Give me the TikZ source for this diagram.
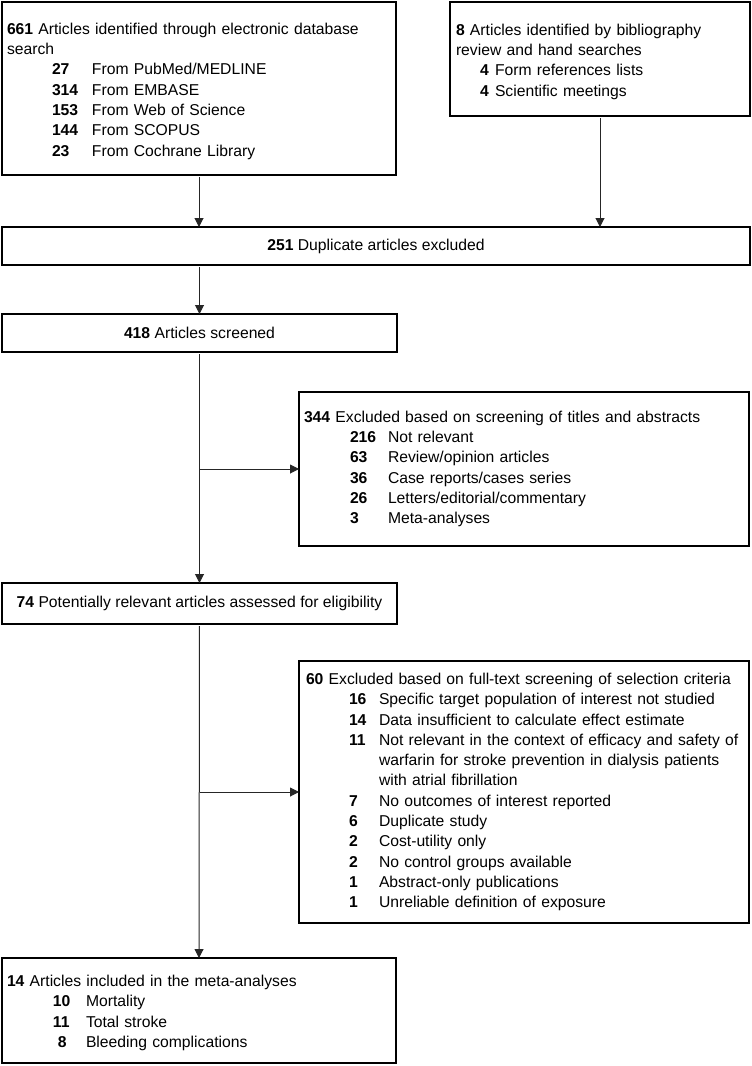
\documentclass[tikz,border=0pt]{standalone}
\usepackage{fontspec}
\setmainfont{Liberation Sans}
\usetikzlibrary{arrows.meta}
\newcommand{\rowitem}[4]{\hspace*{#1pt}\makebox[#2pt][l]{\textbf{#3}}#4}
\newcommand{\topstrut}{\rule{0pt}{16.5pt}}
\begin{document}
\begin{tikzpicture}[x=1pt,y=-1pt,
  box/.style={draw=black, line width=1.4pt, rectangle, outer sep=0pt, anchor=north west, inner ysep=0pt,
    font=\fontsize{15.7pt}{20.3pt}\selectfont},
  arr/.style={draw=black!85, line width=1pt, -{Triangle[length=9pt,width=9pt]}},
  gap/.style={shorten <=2pt}]
\useasboundingbox (0,0) rectangle (752,1066);

\node[box, align=left, inner xsep=5pt, text width=384pt, minimum width=394pt, minimum height=173pt] (b1) at (2,2)
{\topstrut\textbf{661} Articles identified through electronic database\\
search\\
\rowitem{45}{40}{27}{From PubMed/MEDLINE}\\
\rowitem{45}{40}{314}{From EMBASE}\\
\rowitem{45}{40}{153}{From Web of Science}\\
\rowitem{45}{40}{144}{From SCOPUS}\\
\rowitem{45}{40}{23}{From Cochrane Library}};

\node[box, align=left, inner xsep=6pt, text width=288pt, minimum width=300pt, minimum height=114pt] (b2) at (450,2)
{\topstrut\textbf{8} Articles identified by bibliography\\
review and hand searches\\
\rowitem{24}{15}{4}{Form references lists}\\
\rowitem{24}{15}{4}{Scientific meetings}};

\node[box, align=center, minimum width=748pt, minimum height=38pt] (dup) at (2,227)
{\textbf{251} Duplicate articles excluded};

\node[box, align=center, minimum width=395pt, minimum height=38pt] (scr) at (2,314)
{\textbf{418} Articles screened};

\node[box, align=left, inner xsep=5pt, text width=440pt, minimum width=450pt, minimum height=154pt] (ex1) at (299,392)
{\textbf{344} Excluded based on screening of titles and abstracts\\
\rowitem{46}{38}{216}{Not relevant}\\
\rowitem{46}{38}{63}{Review/opinion articles}\\
\rowitem{46}{38}{36}{Case reports/cases series}\\
\rowitem{46}{38}{26}{Letters/editorial/commentary}\\
\rowitem{46}{38}{3}{Meta-analyses}};

\node[box, align=center, minimum width=395pt, minimum height=41pt] (elig) at (2,583)
{\textbf{74} Potentially relevant articles assessed for eligibility};

\node[box, align=left, inner xsep=7pt, text width=436pt, minimum width=450pt, minimum height=262pt] (ex2) at (299,661)
{\textbf{60} Excluded based on full-text screening of selection criteria\\
\rowitem{43}{30}{16}{Specific target population of interest not studied}\\
\rowitem{43}{30}{14}{Data insufficient to calculate effect estimate}\\
\rowitem{43}{30}{11}{Not relevant in the context of efficacy and safety of}\\
\hspace*{73pt}warfarin for stroke prevention in dialysis patients\\
\hspace*{73pt}with atrial fibrillation\\
\rowitem{43}{30}{7}{No outcomes of interest reported}\\
\rowitem{43}{30}{6}{Duplicate study}\\
\rowitem{43}{30}{2}{Cost-utility only}\\
\rowitem{43}{30}{2}{No control groups available}\\
\rowitem{43}{30}{1}{Abstract-only publications}\\
\rowitem{43}{30}{1}{Unreliable definition of exposure}};

\node[box, align=left, inner xsep=5pt, text width=384pt, minimum width=394pt, minimum height=105pt] (inc) at (2,958)
{\topstrut\textbf{14} Articles included in the meta-analyses\\
\rowitem{46}{33}{10}{Mortality}\\
\rowitem{46}{33}{11}{Total stroke}\\
\rowitem{51}{28}{8}{Bleeding complications}};

\draw[arr, gap] (b1.south) -- (b1.south |- dup.north);
\draw[arr, gap] (b2.south) -- (b2.south |- dup.north);
\draw[arr, gap] (dup.south -| scr.north) -- (scr.north);
\draw[arr, gap] (scr.south) -- (elig.north);
\draw[arr] (scr.south |- ex1.west) -- (ex1.west);
\draw[arr, gap] (elig.south) -- (inc.north);
\draw[arr] (elig.south |- ex2.west) -- (ex2.west);
\end{tikzpicture}
\end{document}
